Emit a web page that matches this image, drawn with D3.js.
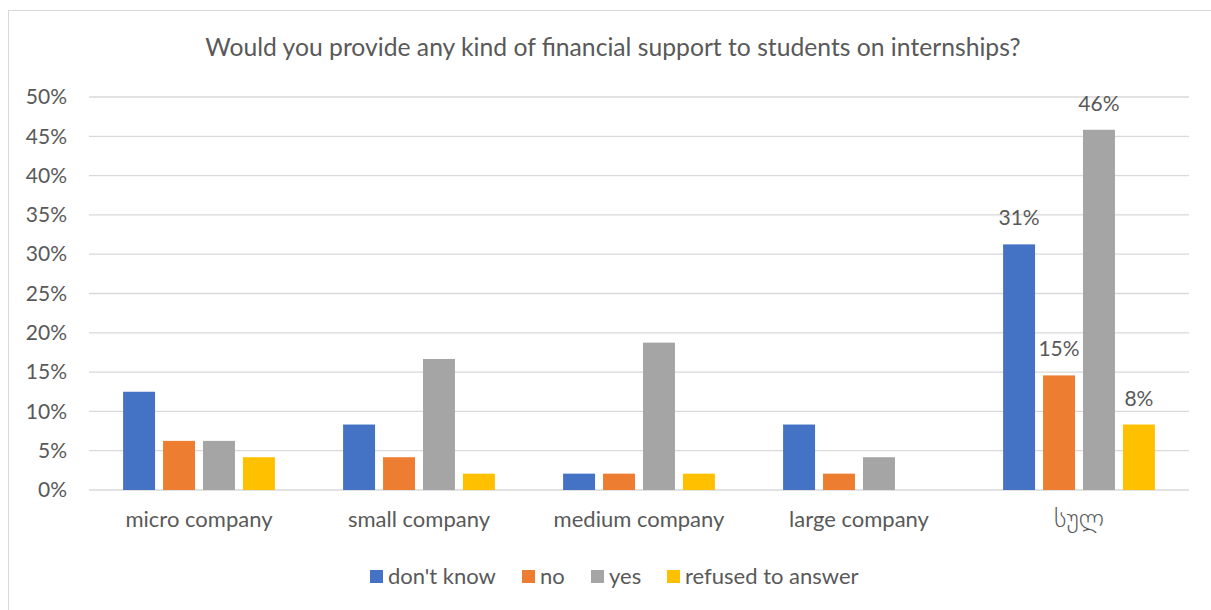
<!DOCTYPE html>
<html>
<head>
<meta charset="utf-8">
<script src="https://cdn.jsdelivr.net/npm/d3@7"></script>
<style>
  body { margin: 0; background: #fff; }
  svg text { font-family: Lato, "Open Sans", "DejaVu Sans", sans-serif; fill: #595959; }
</style>
</head>
<body>
<svg id="chart"></svg>
<script>
// data
var categories = ["micro company", "small company", "medium company", "large company", "სულ"];
var series = ["don't know", "no", "yes", "refused to answer"];
var dontKnow = [0.125, 0.0833, 0.0208, 0.0833, 0.3125];
var no       = [0.0625, 0.0417, 0.0208, 0.0208, 0.1458];
var yes      = [0.0625, 0.1667, 0.1875, 0.0417, 0.4583];
var refused  = [0.0417, 0.0208, 0.0208, 0, 0.0833];
var yTicks = [0, 0.05, 0.10, 0.15, 0.20, 0.25, 0.30, 0.35, 0.40, 0.45, 0.50];
var colors = ["#4472c4", "#ed7d31", "#a5a5a5", "#ffc000"];
var labelledCategory = "სულ";

var values = [dontKnow, no, yes, refused];
var data = categories.map(function(c, i) {
    var row = {category: c};
    series.forEach(function(s, j) { row[s] = values[j][i]; });
    return row;
});

var W = 1211, H = 610;
var margin = {top: 97, right: 22, bottom: 120, left: 89},
    width = W - margin.left - margin.right,
    height = H - margin.top - margin.bottom;

var root = d3.select("#chart").attr("width", W).attr("height", H);

// outer frame
root.append("rect")
    .attr("x", 8.5).attr("y", 10.5)
    .attr("width", 1203).attr("height", 600)
    .attr("fill", "#fff").attr("stroke", "#d9d9d9");

root.append("text")
    .attr("x", 613).attr("y", 56)
    .attr("text-anchor", "middle")
    .style("font-size", "24.7px")
    .text("Would you provide any kind of financial support to students on internships?");

var svg = root.append("g")
    .attr("transform", "translate(" + margin.left + "," + margin.top + ")");

var x0 = d3.scaleBand().domain(categories).range([0, width]).paddingInner(0.31).paddingOuter(0.155);
var x1 = d3.scaleBand().domain(series).range([0, x0.bandwidth()]).paddingInner(0.2);
var y = d3.scaleLinear().domain([0, 0.5]).range([height, 0]);
var color = d3.scaleOrdinal().domain(series).range(colors);

// gridlines
svg.append("g")
    .selectAll("line")
    .data(yTicks)
    .enter().append("line")
        .attr("x1", 0).attr("x2", width)
        .attr("y1", function(d) { return y(d); })
        .attr("y2", function(d) { return y(d); })
        .attr("stroke", "#d9d9d9").attr("stroke-width", 1.3);

// y axis
var yAxis = svg.append("g")
    .call(d3.axisLeft(y).tickValues(yTicks).tickFormat(d3.format(".0%")).tickSize(0).tickPadding(22));
yAxis.select(".domain").remove();
yAxis.selectAll("text").style("font-size", "21px").attr("fill", "#595959");

// x axis
var xAxis = svg.append("g")
    .attr("transform", "translate(0," + height + ")")
    .call(d3.axisBottom(x0).tickSize(0));
xAxis.select(".domain").remove();
xAxis.selectAll("text")
    .attr("y", 37).attr("dy", null)
    .style("font-size", function(d) { return d === labelledCategory ? "26px" : "22px"; })
    .style("font-weight", function(d) { return d === labelledCategory ? "200" : null; })
    .attr("fill", function(d) { return d === labelledCategory ? "#6a6a6a" : "#595959"; });

// bars
var groups = svg.append("g")
    .selectAll("g")
    .data(data)
    .enter().append("g")
        .attr("transform", function(d) { return "translate(" + x0(d.category) + ",0)"; });

groups.selectAll("rect")
    .data(function(d) { return series.map(function(s) { return {key: s, value: d[s], category: d.category}; }); })
    .enter().append("rect")
        .attr("x", function(d) { return x1(d.key); })
        .attr("y", function(d) { return y(d.value); })
        .attr("width", x1.bandwidth())
        .attr("height", function(d) { return height - y(d.value); })
        .attr("fill", function(d) { return color(d.key); });

// value labels on the total group only
groups.filter(function(d) { return d.category === labelledCategory; })
    .selectAll("text.val")
    .data(function(d) { return series.map(function(s) { return {key: s, value: d[s]}; }); })
    .enter().append("text")
        .attr("class", "val")
        .attr("x", function(d) { return x1(d.key) + x1.bandwidth() / 2; })
        .attr("y", function(d) { return y(d.value) - 19; })
        .attr("text-anchor", "middle")
        .style("font-size", "21px")
        .attr("fill", "#404040")
        .text(function(d) { return d3.format(".0%")(d.value); });

// legend
var legendItems = [
    {key: series[0], x: 370},
    {key: series[1], x: 522},
    {key: series[2], x: 591},
    {key: series[3], x: 667}
];
var legend = root.append("g");
legendItems.forEach(function(it) {
    legend.append("rect")
        .attr("x", it.x).attr("y", 570)
        .attr("width", 13).attr("height", 13)
        .attr("fill", color(it.key));
    legend.append("text")
        .attr("x", it.x + 18).attr("y", 584)
        .style("font-size", "22px")
        .text(it.key);
});
</script>
</body>
</html>
